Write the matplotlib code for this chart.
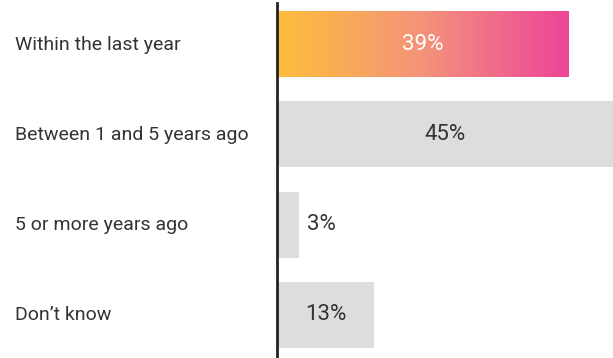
import numpy as np
import matplotlib.pyplot as plt
from matplotlib.colors import LinearSegmentedColormap

categories = ["Within the last year", "Between 1 and 5 years ago", "5 or more years ago", "Don\u2019t know"]
values = [39, 45, 3, 13]
labels = ["39%", "45%", "3%", "13%"]

plt.rcParams['font.family'] = ['Roboto', 'DejaVu Sans']

fig = plt.figure(figsize=(6.13, 3.58), dpi=100)
ax = fig.add_axes([277 / 613, 0, 336 / 613, 355 / 358])

y = np.arange(len(categories))
bars = ax.barh(y, values, height=0.73, color="#dddddd", zorder=1)

# gradient for the first bar
grad = LinearSegmentedColormap.from_list("g", ["#fdbe3b", "#f4937b", "#ec4597"])
b0 = bars[0]
b0.set_facecolor("none")
x0, y0 = b0.get_x(), b0.get_y()
w, h = b0.get_width(), b0.get_height()
im = ax.imshow(np.linspace(0, 1, 256).reshape(1, -1), cmap=grad, aspect="auto",
               extent=[x0, x0 + w, y0 + h, y0], zorder=1, interpolation="bicubic")
im.set_clip_path(b0)

for i, (v, lab) in enumerate(zip(values, labels)):
    col = "white" if i == 0 else "#333333"
    ax.text(max(v / 2, 6), i, lab, ha="center", va="center", fontsize=16, color=col, zorder=3)
    fig.text(15 / 613, 1 - (4 + 41 + 90 * i) / 358, categories[i], ha="left", va="center",
             fontsize=14, color="#333333")

ax.set_xlim(0, 45)
ax.set_ylim(3 + 43 / 90, -41 / 90)
for s in ["top", "right", "bottom"]:
    ax.spines[s].set_visible(False)
ax.spines["left"].set_linewidth(2)
ax.spines["left"].set_color("#222222")
ax.set_xticks([])
ax.set_yticks([])

fig.savefig("out.png", dpi=100)
